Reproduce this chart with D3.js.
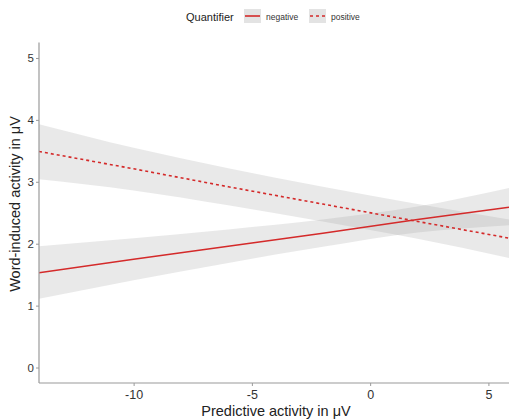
<!DOCTYPE html>
<html><head><meta charset="utf-8">
<script src="https://cdn.jsdelivr.net/npm/d3@7"></script>
<style>body{margin:0;background:#fff;}svg{display:block;font-family:"Liberation Sans",Arial,sans-serif;}</style>
</head><body>
<svg id="c" width="509" height="420"></svg>
<script>
const seriesNames = ["negative", "positive"];
const xTicks = [-10, -5, 0, 5];
const yTicks = [0, 1, 2, 3, 4, 5];
const xGrid = [-14, -10, -6, -2, 2, 5.87];
const negFit = [1.53, 1.75, 1.96, 2.17, 2.39, 2.59];
const negLo  = [1.11, 1.41, 1.69, 1.95, 2.18, 2.30];
const negHi  = [1.96, 2.09, 2.23, 2.39, 2.60, 2.90];
const posFit = [3.49, 3.21, 2.92, 2.64, 2.36, 2.09];
const posLo  = [3.04, 2.86, 2.62, 2.36, 2.08, 1.77];
const posHi  = [3.93, 3.55, 3.22, 2.92, 2.64, 2.39];

const svg = d3.select("#c");
const L = 39, R = 509, T = 42.5, B = 383;
const x = d3.scaleLinear().domain([-14, 5.87]).range([L, R]);
const y = d3.scaleLinear().domain([-0.25, 5.25]).range([B, T]);

svg.append("clipPath").attr("id","clip").append("rect")
  .attr("x", L).attr("y", T).attr("width", R - L).attr("height", B - T);
const g = svg.append("g").attr("clip-path", "url(#clip)");

const series = [
  {name: seriesNames[0], fit: negFit, lo: negLo, hi: negHi, dash: null},
  {name: seriesNames[1], fit: posFit, lo: posLo, hi: posHi, dash: "3,3"}
];
const area = d3.area().curve(d3.curveMonotoneX)
  .x((d) => x(d.x)).y0((d) => y(d.lo)).y1((d) => y(d.hi));
const line = d3.line().x((d) => x(d.x)).y((d) => y(d.v));

series.forEach((s) => {
  const pts = xGrid.map((v, i) => ({x: v, lo: s.lo[i], hi: s.hi[i]}));
  g.append("path").attr("d", area(pts)).attr("fill", "#999").attr("fill-opacity", 0.22);
});
series.forEach((s) => {
  const pts = xGrid.map((v, i) => ({x: v, v: s.fit[i]}));
  g.append("path").attr("d", line(pts)).attr("fill", "none")
    .attr("stroke", "#d42a2a").attr("stroke-width", 1.6)
    .attr("stroke-dasharray", s.dash);
});

// axes
const axCol = "#9a9a9a";
const fmt = (d) => String(d);
const xAxis = svg.append("g").attr("transform", `translate(0,${B})`)
  .call(d3.axisBottom(x).tickValues(xTicks).tickSize(3).tickPadding(4).tickFormat(fmt));
const yAxis = svg.append("g").attr("transform", `translate(${L},0)`)
  .call(d3.axisLeft(y).tickValues(yTicks).tickSize(3).tickPadding(2).tickFormat(fmt));
[xAxis, yAxis].forEach((a) => {
  a.select(".domain").attr("stroke", axCol).attr("stroke-width", 1.2);
  a.selectAll(".tick line").attr("stroke", axCol);
  a.selectAll(".tick text").attr("fill", "#333").style("font-size", "11.5px")
    .style("font-family", "'Liberation Sans',Arial,sans-serif");
});
xAxis.selectAll(".tick text").style("font-size", "12.5px");
yAxis.select(".domain").attr("d", `M0,${B}V${T}`);
xAxis.select(".domain").attr("d", `M${L},0H${R}`);

// axis titles
svg.append("text").attr("x", 276).attr("y", 416).attr("text-anchor", "middle")
  .attr("fill", "#222").style("font-size", "14.5px").text("Predictive activity in μV");
svg.append("text").attr("transform", "translate(20,204) rotate(-90)").attr("text-anchor", "middle")
  .attr("fill", "#222").style("font-size", "14.5px").text("Word-induced activity in μV");

// legend
const lg = svg.append("g");
lg.append("text").attr("x", 186).attr("y", 21).attr("fill", "#222").style("font-size", "11px").text("Quantifier");
const keyX = [244, 309], labX = [266, 331];
series.forEach((s, i) => {
  lg.append("rect").attr("x", keyX[i]).attr("y", 9).attr("width", 17).attr("height", 14).attr("fill", "#e3e3e3");
  lg.append("line").attr("x1", keyX[i] + 1).attr("x2", keyX[i] + 16).attr("y1", 16).attr("y2", 16)
    .attr("stroke", "#d42a2a").attr("stroke-width", 1.6).attr("stroke-dasharray", s.dash);
  lg.append("text").attr("x", labX[i]).attr("y", 19.5).attr("fill", "#333").style("font-size", "8.5px").text(s.name);
});
</script>
</body></html>
